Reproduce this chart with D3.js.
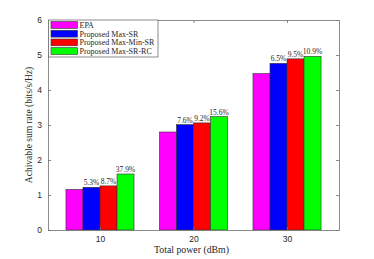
<!DOCTYPE html>
<html><head><meta charset="utf-8">
<script src="https://cdn.jsdelivr.net/npm/d3@7"></script>
<style>body{margin:0;background:#fff}svg{display:block}
.serif{font-family:"Liberation Serif","Times New Roman",serif}
.sans{font-family:"Liberation Sans",Arial,sans-serif}</style>
</head><body>
<script>
const categories = ["10", "20", "30"];
const seriesNames = ["EPA", "Proposed Max-SR", "Proposed Max-Min-SR", "Proposed Max-SR-RC"];
const epa      = [1.16, 2.80, 4.47];
const maxSR    = [1.22, 3.01, 4.76];
const maxMinSR = [1.26, 3.06, 4.89];
const maxSRRC  = [1.60, 3.24, 4.96];
const gainLabels = [["5.3%", "8.7%", "37.9%"], ["7.6%", "9.2%", "15.6%"], ["6.5%", "9.5%", "10.9%"]];
const yTicks = [0, 1, 2, 3, 4, 5, 6];
const colors = ["#ff00ff", "#0000ff", "#ff0000", "#00ff00"];

const series = [epa, maxSR, maxMinSR, maxSRRC];
const W = 374, H = 259;
const L = 48, R = 339, T = 20, B = 230;
const svg = d3.select("body").append("svg").attr("width", W).attr("height", H);

const x = d3.scaleLinear().domain([0.444, 3.556]).range([L, R]);
const y = d3.scaleLinear().domain([0, 6]).range([B, T]);
const barW = 0.182;
const axisCol = "#6e6e6e", textCol = "#262626";

// bars
series.forEach((vals, j) => {
  svg.append("g").selectAll("rect").data(vals).join("rect")
    .attr("x", (d, i) => x(i + 1 + (j - 2) * barW))
    .attr("y", d => y(d))
    .attr("width", x(barW) - x(0))
    .attr("height", d => y(0) - y(d))
    .attr("fill", colors[j])
    .attr("stroke", "#333").attr("stroke-width", 0.6);
});

// percentage labels
for (let j = 1; j < 4; j++) {
  svg.append("g").selectAll("text").data(series[j]).join("text")
    .attr("class", "serif")
    .attr("x", (d, i) => x(i + 1 + (j - 1.5) * barW))
    .attr("y", d => y(d) - 2)
    .attr("text-anchor", "middle")
    .attr("font-size", 7.5).attr("fill", textCol)
    .text((d, i) => gainLabels[i][j - 1]);
}

// axes
const yAxisL = d3.axisLeft(y).tickValues(yTicks).tickFormat(d3.format("d")).tickSizeInner(-3).tickSizeOuter(0).tickPadding(6);
const yAxisR = d3.axisRight(y).tickValues(yTicks).tickSizeInner(-3).tickSizeOuter(0).tickFormat("");
const xAxisB = d3.axisBottom(x).tickValues([1, 2, 3]).tickFormat((d) => categories[d - 1]).tickSizeInner(-3).tickSizeOuter(0).tickPadding(6);
const xAxisT = d3.axisTop(x).tickValues([1, 2, 3]).tickSizeInner(-3).tickSizeOuter(0).tickFormat("");

function style(g) {
  g.attr("font-family", null).attr("font-size", null);
  g.selectAll("path").attr("stroke", axisCol).attr("stroke-width", 0.8);
  g.selectAll("line").attr("stroke", axisCol).attr("stroke-width", 0.8);
  g.selectAll("text").attr("fill", textCol).attr("class", "sans").style("font-size", "8.5px");
}
svg.append("g").attr("transform", `translate(${L},0)`).call(yAxisL).call(style);
svg.append("g").attr("transform", `translate(${R},0)`).call(yAxisR).call(style);
svg.append("g").attr("transform", `translate(0,${B})`).call(xAxisB).call(style);
svg.append("g").attr("transform", `translate(0,${T})`).call(xAxisT).call(style);

// axis labels
svg.append("text").attr("class", "serif").attr("x", (L + R) / 2 - 2).attr("y", 253).attr("text-anchor", "middle")
  .attr("font-size", 9.8).attr("fill", textCol)
  .text("Total power (dBm)");
svg.append("text").attr("class", "serif").attr("transform", `translate(32,${(T + B) / 2}) rotate(-90)`).attr("text-anchor", "middle")
  .attr("font-size", 9.5).attr("fill", textCol)
  .text("Achivable sum rate (bits/s/Hz)");

// legend
const lg = svg.append("g");
lg.append("rect").attr("x", L + 0.5).attr("y", T).attr("width", 109.5).attr("height", 37)
  .attr("fill", "#fff").attr("stroke", axisCol).attr("stroke-width", 0.8);
seriesNames.forEach((name, j) => {
  const cy = T + 5 + j * 8.7;
  lg.append("rect").attr("x", L + 3).attr("y", cy - 3.4).attr("width", 26.5).attr("height", 6.8)
    .attr("fill", colors[j]).attr("stroke", "#333").attr("stroke-width", 0.6);
  lg.append("text").attr("class", "serif").attr("x", L + 31.5).attr("y", cy + 2.8)
    .attr("font-size", 8).attr("fill", textCol)
    .text(name);
});
</script>
</body></html>
